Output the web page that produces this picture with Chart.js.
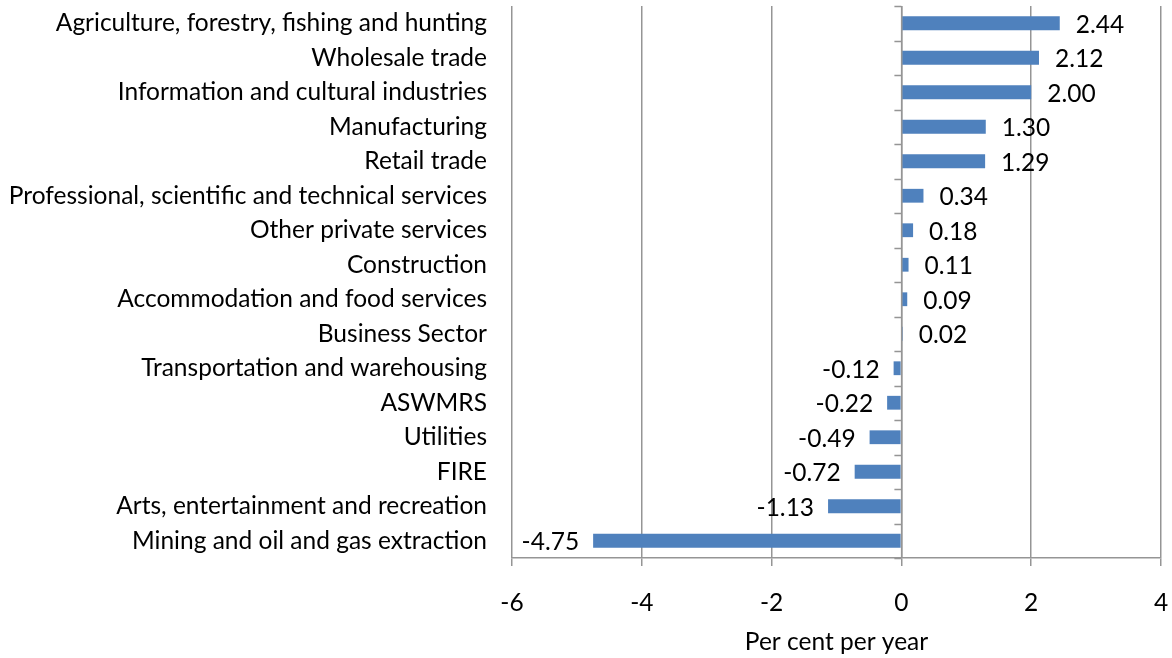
<!DOCTYPE html>
<html>
<head>
<meta charset="utf-8">
<script src="https://cdn.jsdelivr.net/npm/chart.js@4/dist/chart.umd.min.js"></script>
<style>
  html, body { margin: 0; padding: 0; background: #fff; }
  #wrap { width: 1172px; height: 658px; }
</style>
</head>
<body>
<div id="wrap"><canvas id="c" width="1172" height="658"></canvas></div>
<script>
// Industries, ordered top to bottom
const industries = [
  "Agriculture, forestry, fishing and hunting",
  "Wholesale trade",
  "Information and cultural industries",
  "Manufacturing",
  "Retail trade",
  "Professional, scientific and technical services",
  "Other private services",
  "Construction",
  "Accommodation and food services",
  "Business Sector",
  "Transportation and warehousing",
  "ASWMRS",
  "Utilities",
  "FIRE",
  "Arts, entertainment and recreation",
  "Mining and oil and gas extraction"
];

// Growth, per cent per year
const growthRates = [2.44, 2.12, 2.00, 1.30, 1.29, 0.34, 0.18, 0.11, 0.09, 0.02,
                     -0.12, -0.22, -0.49, -0.72, -1.13, -4.75];

const axisTitle = "Per cent per year";

const FONT = "Lato, 'Open Sans', sans-serif";
const FSIZE = 24.5;
const GRID = "#959595";

// Value labels beside each bar end
const valueLabels = {
  id: "valueLabels",
  afterDatasetsDraw(chart) {
    const { ctx } = chart;
    const meta = chart.getDatasetMeta(0);
    ctx.save();
    ctx.font = FSIZE + "px " + FONT;
    ctx.fillStyle = "#000";
    ctx.textBaseline = "middle";
    meta.data.forEach((bar, i) => {
      const v = growthRates[i];
      const txt = v.toFixed(2);
      if (v >= 0) {
        ctx.textAlign = "left";
        ctx.fillText(txt, bar.x + 16, bar.y + 1.5);
      } else {
        ctx.textAlign = "right";
        ctx.fillText(txt, bar.x - 14, bar.y + 1.5);
      }
    });
    ctx.restore();
  }
};

// Category tick marks on the zero line
const zeroAxisTicks = {
  id: "zeroAxisTicks",
  afterDatasetsDraw(chart) {
    const { ctx, scales: { x, y } } = chart;
    const x0 = x.getPixelForValue(0);
    ctx.save();
    ctx.strokeStyle = GRID;
    ctx.lineWidth = 1.5;
    ctx.beginPath();
    for (let i = 0; i <= industries.length; i++) {
      const yy = Math.round(y.getPixelForValue(i - 0.5)) + 0.5;
      ctx.moveTo(x0 - 7, yy);
      ctx.lineTo(x0, yy);
    }
    ctx.moveTo(x0 + 0.25, y.getPixelForValue(-0.5));
    ctx.lineTo(x0 + 0.25, y.getPixelForValue(industries.length - 0.5));
    ctx.stroke();
    ctx.restore();
  }
};

new Chart(document.getElementById("c"), {
  type: "bar",
  data: {
    labels: industries,
    datasets: [{
      data: growthRates,
      backgroundColor: "#4F81BD",
      borderWidth: 0,
      barPercentage: 0.4,
      categoryPercentage: 1
    }]
  },
  options: {
    indexAxis: "y",
    responsive: false,
    animation: false,
    devicePixelRatio: 1,
    layout: { padding: { left: 0, right: 11, top: 6, bottom: 0 } },
    plugins: {
      legend: { display: false },
      tooltip: { enabled: false }
    },
    scales: {
      x: {
        min: -6,
        max: 4,
        ticks: {
          stepSize: 2,
          color: "#000",
          font: { family: FONT, size: FSIZE },
          padding: 22
        },
        grid: {
          color: GRID,
          lineWidth: 1.5,
          drawTicks: true,
          tickLength: 8
        },
        border: { display: true, color: GRID, width: 1.5 },
        title: {
          display: true,
          text: axisTitle,
          color: "#000",
          font: { family: FONT, size: FSIZE },
          padding: { top: 0, bottom: 1 }
        },
        afterFit(scale) { scale.height = 100; scale.paddingLeft = 0; scale.paddingRight = 0; }
      },
      y: {
        ticks: {
          color: "#000",
          font: { family: FONT, size: FSIZE },
          padding: 25,
          autoSkip: false
        },
        grid: { display: false, drawTicks: false },
        border: { display: false },
        afterFit(scale) { scale.width = 512; scale.paddingTop = 0; scale.paddingBottom = 0; }
      }
    }
  },
  plugins: [valueLabels, zeroAxisTicks]
});
</script>
</body>
</html>
